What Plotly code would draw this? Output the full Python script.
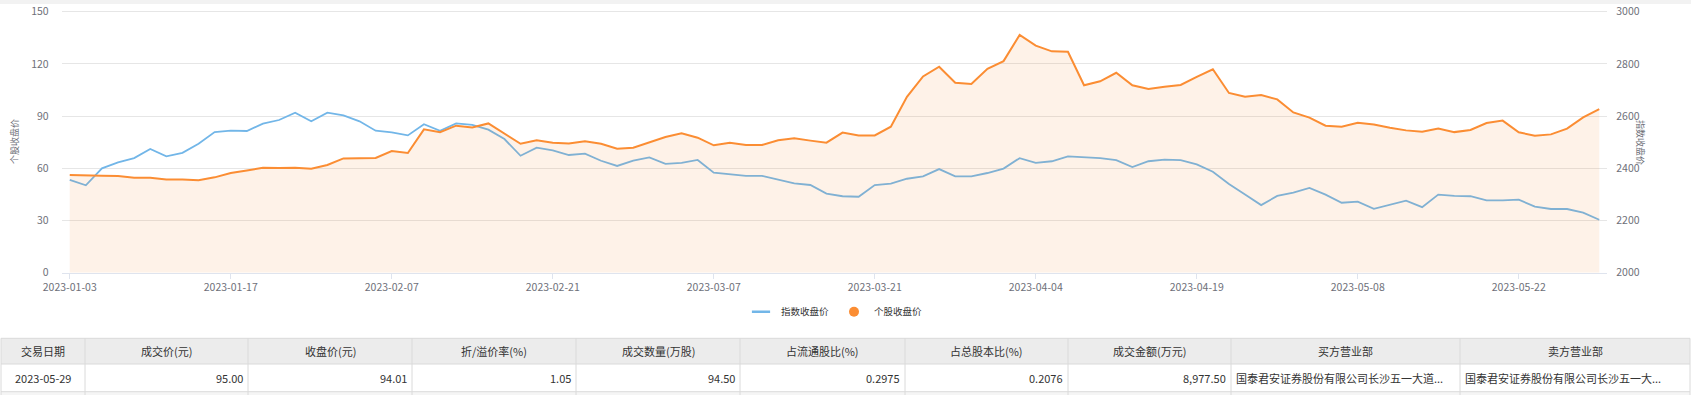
import plotly.graph_objects as go

W, H = 1691, 395

dates = [
    "2023-01-03", "2023-01-04", "2023-01-05", "2023-01-06", "2023-01-09", "2023-01-10", "2023-01-11", "2023-01-12",
    "2023-01-13", "2023-01-16", "2023-01-17", "2023-01-18", "2023-01-19", "2023-01-20", "2023-01-30", "2023-01-31",
    "2023-02-01", "2023-02-02", "2023-02-03", "2023-02-06", "2023-02-07", "2023-02-08", "2023-02-09", "2023-02-10",
    "2023-02-13", "2023-02-14", "2023-02-15", "2023-02-16", "2023-02-17", "2023-02-20", "2023-02-21", "2023-02-22",
    "2023-02-23", "2023-02-24", "2023-02-27", "2023-02-28", "2023-03-01", "2023-03-02", "2023-03-03", "2023-03-06",
    "2023-03-07", "2023-03-08", "2023-03-09", "2023-03-10", "2023-03-13", "2023-03-14", "2023-03-15", "2023-03-16",
    "2023-03-17", "2023-03-20", "2023-03-21", "2023-03-22", "2023-03-23", "2023-03-24", "2023-03-27", "2023-03-28",
    "2023-03-29", "2023-03-30", "2023-03-31", "2023-04-03", "2023-04-04", "2023-04-06", "2023-04-07", "2023-04-10",
    "2023-04-11", "2023-04-12", "2023-04-13", "2023-04-14", "2023-04-17", "2023-04-18", "2023-04-19", "2023-04-20",
    "2023-04-21", "2023-04-24", "2023-04-25", "2023-04-26", "2023-04-27", "2023-04-28", "2023-05-04", "2023-05-05",
    "2023-05-08", "2023-05-09", "2023-05-10", "2023-05-11", "2023-05-12", "2023-05-15", "2023-05-16", "2023-05-17",
    "2023-05-18", "2023-05-19", "2023-05-22", "2023-05-23", "2023-05-24", "2023-05-25", "2023-05-26", "2023-05-29",
]

# 指数收盘价 (right axis)
index_close = [
    2356, 2335, 2400, 2423, 2439, 2474, 2446, 2459, 2494, 2539, 2544, 2543, 2571, 2585, 2613, 2580,
    2613, 2603, 2580, 2544, 2538, 2526, 2569, 2544, 2572, 2566, 2548, 2512, 2448, 2479, 2469, 2451,
    2456, 2429, 2409, 2429, 2442, 2417, 2421, 2432, 2383, 2377, 2371, 2371, 2356, 2342, 2336, 2303,
    2293, 2291, 2336, 2341, 2360, 2369, 2397, 2369, 2369, 2382, 2399, 2439, 2421, 2427, 2446, 2442,
    2439, 2431, 2405, 2427, 2433, 2431, 2415, 2387, 2340, 2300, 2259, 2294, 2307, 2325, 2299, 2268,
    2272, 2245, 2262, 2276, 2251, 2299, 2294, 2293, 2277, 2277, 2280, 2253, 2244, 2244, 2230, 2203,
]

# 个股收盘价 (left axis)
stock_close = [
    56.1, 55.7, 55.7, 55.6, 54.6, 54.6, 53.6, 53.6, 53.1, 54.8, 57.3, 58.8, 60.3, 60.2, 60.3, 59.8,
    61.9, 65.7, 65.8, 65.9, 69.9, 68.8, 82.4, 80.8, 84.5, 83.5, 85.8, 79.7, 74.1, 76.1, 74.7, 74.3,
    75.5, 74.1, 71.3, 71.8, 74.9, 78.0, 80.1, 77.6, 73.2, 74.7, 73.4, 73.4, 76.1, 77.2, 75.9, 74.7,
    80.5, 78.9, 78.9, 83.9, 101.1, 112.8, 118.4, 109.2, 108.4, 117.2, 121.6, 136.6, 130.5, 127.2, 127.0, 107.7,
    110.0, 114.9, 107.7, 105.6, 106.9, 107.9, 112.5, 116.9, 103.3, 101.1, 102.1, 99.6, 92.1, 89.1, 84.5, 83.9,
    86.2, 85.2, 83.3, 81.8, 81.0, 82.8, 80.8, 82.0, 86.0, 87.4, 80.7, 78.7, 79.5, 82.8, 89.3, 94.01,
]

tick_dates = ["2023-01-03", "2023-01-17", "2023-02-07", "2023-02-21", "2023-03-07",
              "2023-03-21", "2023-04-04", "2023-04-19", "2023-05-08", "2023-05-22"]

left_range = [0, 150]
left_ticks = [0, 30, 60, 90, 120, 150]
right_range = [2000, 3000]
right_ticks = [2000, 2200, 2400, 2600, 2800, 3000]

table_headers = ["交易日期", "成交价(元)", "收盘价(元)", "折/溢价率(%)", "成交数量(万股)",
                 "占流通股比(%)", "占总股本比(%)", "成交金额(万元)", "买方营业部", "卖方营业部"]
table_row = ["2023-05-29", "95.00", "94.01", "1.05", "94.50", "0.2975", "0.2076", "8,977.50",
             "国泰君安证券股份有限公司长沙五一大道...", "国泰君安证券股份有限公司长沙五一大..."]
col_align = ["center", "right", "right", "right", "right", "right", "right", "right", "left", "left"]
col_edges = [1, 85, 248, 412, 576, 740, 905, 1068, 1231, 1460, 1690]

BLUE = "#72b6e8"
ORANGE = "#fb8d33"
FONT = "Noto Sans CJK SC, Liberation Sans, sans-serif"
TICK_COLOR = "#6e7079"

# plot area in pixels
PL, PR, PT, PB = 61.7, 1607.3, 11.7, 272.7
# small headroom so the top gridline/labels at 150 / 3000 are kept by plotly
HEAD = 0.008
PT_EXT = PT - HEAD * (PB - PT)


def px(x):
    return x / W


def py(y):
    return 1 - y / H


fig = go.Figure()

fig.add_trace(go.Scatter(
    x=dates, y=index_close, name="指数收盘价", mode="lines",
    line=dict(color=BLUE, width=1.8), xaxis="x", yaxis="y", showlegend=False,
))
fig.add_trace(go.Scatter(
    x=dates, y=stock_close, name="个股收盘价", mode="lines",
    line=dict(color=ORANGE, width=2), fill="tozeroy", fillcolor="rgba(249,140,45,0.11)",
    xaxis="x", yaxis="y2", showlegend=False,
))
# legend entries
fig.add_trace(go.Scatter(
    x=[None], y=[None], name="指数收盘价", mode="markers",
    marker=dict(symbol="line-ew", size=13, color=BLUE, line=dict(color=BLUE, width=2.5)),
    xaxis="x", yaxis="y",
))
fig.add_trace(go.Scatter(
    x=[None], y=[None], name="个股收盘价", mode="markers",
    marker=dict(symbol="circle", size=10, color=ORANGE),
    xaxis="x", yaxis="y",
))

shapes = []
annotations = []

# top strip
shapes.append(dict(type="rect", xref="paper", yref="paper", x0=0, x1=1, y0=py(4), y1=1,
                   fillcolor="#f2f2f2", line=dict(width=0), layer="below"))

# table
T_TOP, T_MID, T_BOT, T_END = 338.3, 364.0, 391.7, 395.0
BORDER = "#dadada"
shapes.append(dict(type="rect", xref="paper", yref="paper", x0=px(col_edges[0]), x1=px(col_edges[-1]),
                   y0=py(T_MID), y1=py(T_TOP), fillcolor="#ececec", line=dict(width=0), layer="below"))
shapes.append(dict(type="rect", xref="paper", yref="paper", x0=px(col_edges[0]), x1=px(col_edges[-1]),
                   y0=py(T_END), y1=py(T_BOT), fillcolor="#f5f5f5", line=dict(width=0), layer="below"))
for yy in (T_TOP, T_MID, T_BOT):
    shapes.append(dict(type="line", xref="paper", yref="paper", x0=px(col_edges[0]), x1=px(col_edges[-1]),
                       y0=py(yy), y1=py(yy), line=dict(color=BORDER, width=1)))
for xx in col_edges:
    shapes.append(dict(type="line", xref="paper", yref="paper", x0=px(xx), x1=px(xx),
                       y0=py(T_END), y1=py(T_TOP), line=dict(color=BORDER, width=1)))

for i, h in enumerate(table_headers):
    cx = (col_edges[i] + col_edges[i + 1]) / 2
    annotations.append(dict(xref="paper", yref="paper", x=px(cx), y=py((T_TOP + T_MID) / 2),
                            text=h, showarrow=False, xanchor="center", yanchor="middle",
                            font=dict(family=FONT, size=11, color="#333333")))
for i, v in enumerate(table_row):
    a = col_align[i]
    if a == "center":
        xx, xa = (col_edges[i] + col_edges[i + 1]) / 2, "center"
    elif a == "right":
        xx, xa = col_edges[i + 1] - 3, "right"
    else:
        xx, xa = col_edges[i] + 3, "left"
    annotations.append(dict(xref="paper", yref="paper", x=px(xx), y=py((T_MID + T_BOT) / 2),
                            text=v, showarrow=False, xanchor=xa, yanchor="middle",
                            font=dict(family=FONT, size=11, color="#333333")))

# axis titles
annotations.append(dict(xref="paper", yref="paper", x=px(15), y=py(142), text="个股收盘价", textangle=-90,
                        showarrow=False, xanchor="center", yanchor="middle",
                        font=dict(family=FONT, size=9, color=TICK_COLOR)))
annotations.append(dict(xref="paper", yref="paper", x=px(1640), y=py(142), text="指数收盘价", textangle=90,
                        showarrow=False, xanchor="center", yanchor="middle",
                        font=dict(family=FONT, size=9, color=TICK_COLOR)))

fig.update_layout(
    width=W, height=H, autosize=False,
    margin=dict(l=0, r=0, t=0, b=0, pad=0, autoexpand=False),
    paper_bgcolor="white", plot_bgcolor="white",
    font=dict(family=FONT, color=TICK_COLOR),
    xaxis=dict(
        type="category", domain=[px(PL), px(PR)], range=[-0.5, len(dates) - 0.5],
        tickmode="array", tickvals=tick_dates, ticktext=tick_dates,
        ticks="outside", ticklen=5, tickcolor="#dfe4ee", tickwidth=1,
        showline=True, linecolor="#dfe4ee", linewidth=1, showgrid=False, zeroline=False,
        tickfont=dict(family=FONT, size=10.5, color=TICK_COLOR), anchor="y", automargin=False,
    ),
    yaxis=dict(
        side="right",
        range=[right_range[0], right_range[1] + HEAD * (right_range[1] - right_range[0])],
        tickmode="array", tickvals=right_ticks,
        domain=[py(PB), py(PT_EXT)], showgrid=True, gridcolor="#e6e6e6", gridwidth=1,
        zeroline=False, showline=False, ticks="", ticklabeloverflow="allow",
        tickfont=dict(family=FONT, size=10.5, color=TICK_COLOR), ticklabelstandoff=8, anchor="x",
        automargin=False,
    ),
    yaxis2=dict(
        side="left", overlaying="y",
        range=[left_range[0], left_range[1] + HEAD * (left_range[1] - left_range[0])],
        tickmode="array", tickvals=left_ticks,
        showgrid=False, zeroline=False, showline=False, ticks="", ticklabeloverflow="allow",
        tickfont=dict(family=FONT, size=10.5, color=TICK_COLOR), ticklabelstandoff=12, anchor="x",
        automargin=False,
    ),
    legend=dict(
        orientation="h", x=px(834), xanchor="center", y=py(311.7), yanchor="middle",
        font=dict(family=FONT, size=9.5, color="#333333"), itemwidth=30, bgcolor="rgba(0,0,0,0)",
    ),
    shapes=shapes,
    annotations=annotations,
)

fig.write_html(
    "out.html",
    config={"displayModeBar": False},
    post_script="document.body.style.margin='0';document.body.style.overflow='hidden';",
)
